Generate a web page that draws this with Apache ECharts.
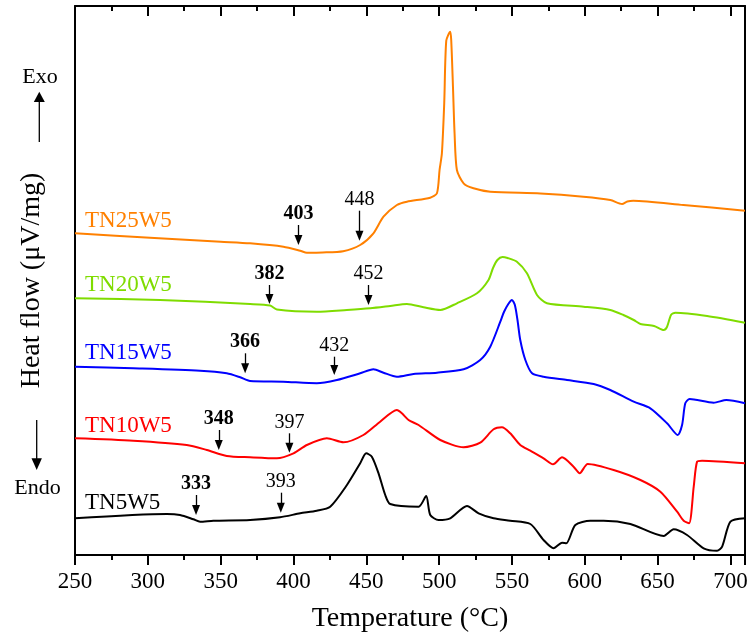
<!DOCTYPE html>
<html>
<head>
<meta charset="utf-8">
<script src="https://cdn.jsdelivr.net/npm/echarts@6/dist/echarts.min.js"></script>
<style>html,body{margin:0;padding:0;background:#fff}#chart{width:750px;height:644px}</style>
</head>
<body>
<div id="chart"></div>
<script>
// ---- Data (temperature °C, heat-flow in arbitrary stacked units) ----
const seriesNames = ['TN25W5', 'TN20W5', 'TN15W5', 'TN10W5', 'TN5W5'];
const seriesColors = ['#FF8000', '#7FDC00', '#0000FF', '#FF0000', '#000000'];

const tn25w5 = [[250,321.7],[301.5,317.3],[350,313.3],[370.2,311.7],[393.1,308.3],[404.6,304.3],[409.2,302.3],[420,302.5],[434.1,303.8],[445.8,310],[454.9,321.7],[461.8,338.3],[471,350],[477.9,353.3],[493.9,357.3],[498.5,361.7],[500.3,385],[501.9,401.7],[503.5,451.7],[504.9,514.3],[507.6,523.3],[508.3,515],[509.5,468.3],[510.6,421.7],[512.2,385],[516.8,371.7],[523.6,366.7],[535.1,363.3],[569.5,361.5],[599,358.3],[617.5,355],[625.6,351],[629.2,353.5],[633.3,354.3],[667.7,350],[710,344.3]];

const tn20w5 = [[250,256.7],[308.4,255],[370.2,251],[384,249.5],[388.6,245.5],[416,243.3],[436.6,245],[452.7,246.7],[466.4,249],[477.9,251],[489.3,247.7],[500.8,245],[512.2,251.7],[526,261.7],[533.9,275],[537,287],[540,295],[543.5,298],[547,297],[553.4,293.3],[560.3,281.7],[567.2,260],[574,251.7],[599.2,248.3],[617.5,245],[626.5,240],[633.6,235],[638.2,231],[647.6,229],[654.2,225],[656.5,228.3],[659.2,240],[662.2,242.3],[684,239],[710,232.3]];

const tn15w5 = [[250,188.3],[290,186.7],[335.9,184.3],[354.2,181.7],[363.4,177.7],[370.2,174],[392.9,173.3],[416,171.7],[429.8,175],[445.8,181.7],[454.9,185.7],[461.8,182.3],[471,178.3],[482.4,181],[498.5,182.3],[516.8,185.7],[528.2,195],[535.1,208.3],[542,233.3],[544.5,243],[547.5,251],[550,255],[552,250],[553.8,235],[555.7,215],[559.2,195],[563.8,181.7],[571.7,178.3],[587.8,175],[606.1,171],[617.5,165],[633.6,153.3],[645,146.7],[656.5,131.7],[663.8,120],[666.8,130],[669,151.7],[672,156],[688.5,152.3],[697.2,155],[710,151.7]];

const tn10w5 = [[250,116.7],[290,114.3],[326.7,110],[340.5,105],[354.2,99],[370.2,97.7],[388.6,96.7],[400,101.7],[409.2,110],[422.9,116.7],[434.3,112.7],[448,120],[459.5,133.3],[471,145],[474.4,141.7],[479,135],[485.9,130],[500.8,115],[516.8,107.7],[528.2,112.3],[537.4,125.7],[543.1,127.7],[548.8,121.7],[555.7,110],[562.6,104.3],[571.7,96.7],[578.2,90.7],[584.4,97.7],[592.3,88.3],[596.5,81.7],[602,91],[619.8,85],[638.2,75],[651.9,63.3],[663.4,43.3],[667.9,34.3],[671.6,31.7],[674.8,68.3],[677.1,93.3],[680.5,94.3],[710,91.7]];

const tn5w5 = [[250,36.7],[313,41],[322.1,40],[331.3,35.7],[335.9,33.3],[345,34.3],[370.2,35],[390.8,37.7],[404.6,41.7],[416,44.3],[425.2,48.3],[436.7,70],[445.8,91.7],[449.9,101.7],[453.8,98.3],[458.4,81.7],[463,60],[466.4,51],[485.9,48.3],[491.1,59],[493.9,40],[499.6,35],[507.6,36.7],[519.1,49],[527.1,41.7],[537.4,36.7],[548.8,34.3],[562.6,31],[571.7,15],[578.6,6.7],[584.4,12.3],[587.3,11.7],[593.5,30],[603.8,34.3],[613,34.3],[631.3,31],[654.2,19],[661,25.7],[670.2,20],[681.6,6.7],[690.8,4.3],[694.3,8.3],[700,33.3],[710,36.7]];

// annotation arrows: temperature, label, bold?, arrow top value, arrow tip value
const ann25 = [[403.4,'403',true,330,310],[445.3,'448',false,344.3,314.3]];
const ann20 = [[383.5,'382',true,270,251],[451.5,'452',false,270,250]];
const ann15 = [[366.8,'366',true,201.7,181.7],[428,'432',false,198.3,180]];
const ann10 = [[348.7,'348',true,125,105],[397.2,'397',false,121.7,102.3]];
const ann5  = [[333.1,'333',true,60,40],[391.3,'393',false,62.3,42.3]];

const xMin = 250, xMax = 710, xStep = 50;
const yMin = 0, yMax = 549;
const xTicks = [250,300,350,400,450,500,550,600,650,700];
const xMinorTicks = [275,325,375,425,475,525,575,625,675];

// ---- Chart ----
const FONT = '"Liberation Serif", "Times New Roman", serif';
const allData = [tn25w5, tn20w5, tn15w5, tn10w5, tn5w5];
const allAnn = [ann25, ann20, ann15, ann10, ann5];
const nameLabelY = [220.7, 285, 353.3, 425.8, 502.5];

const chart = echarts.init(document.getElementById('chart'), null, {renderer: 'canvas'});

const series = allData.map((d, i) => ({
  name: seriesNames[i],
  type: 'line',
  data: d,
  xAxisIndex: 0, yAxisIndex: 0,
  showSymbol: false,
  smooth: 0.25,
  lineStyle: {color: seriesColors[i], width: 2},
  itemStyle: {color: seriesColors[i]},
  z: 3,
  markLine: {
    silent: true,
    symbol: ['none', 'triangle'],
    symbolSize: [8, 10],
    lineStyle: {color: '#000', width: 1.3, type: 'solid'},
    itemStyle: {color: '#000'},
    label: {show: true, position: 'start', distance: 1, formatter: '{b}', color: '#000', fontSize: 20, fontFamily: FONT},
    emphasis: {disabled: true},
    data: allAnn[i].map(a => [
      {name: a[1], coord: [a[0], a[3]], label: {fontWeight: a[2] ? 'bold' : 'normal'}},
      {coord: [a[0], a[4] + 5]}
    ])
  }
}));

// mirrored tick marks along the top frame (inside, pointing down)
series.push({
  type: 'line', data: [], silent: true, z: 4,
  markLine: {
    silent: true, symbol: ['none', 'none'], animation: false,
    label: {show: false}, emphasis: {disabled: true},
    lineStyle: {color: '#000', width: 2, type: 'solid'},
    data: xTicks.map(t => [{coord: [t, yMax]}, {coord: [t, yMax - 10]}])
      .concat(xMinorTicks.map(t => [{coord: [t, yMax]}, {coord: [t, yMax - 5]}]))
  }
});

const graphics = seriesNames.map((n, i) => ({
  type: 'text', x: 85, y: nameLabelY[i],
  style: {text: n, fill: seriesColors[i], font: '23px ' + FONT, align: 'left', verticalAlign: 'middle'}
}));
graphics.push(
  {type: 'text', x: 40, y: 77, style: {text: 'Exo', fill: '#000', font: '22px ' + FONT, align: 'center', verticalAlign: 'middle'}},
  {type: 'line', shape: {x1: 39.3, y1: 101, x2: 39.3, y2: 142}, style: {stroke: '#000', lineWidth: 1.3}},
  {type: 'polygon', shape: {points: [[39.3, 91.7], [33.8, 102], [44.8, 102]]}, style: {fill: '#000'}},
  {type: 'text', x: 37.5, y: 488, style: {text: 'Endo', fill: '#000', font: '22px ' + FONT, align: 'center', verticalAlign: 'middle'}},
  {type: 'line', shape: {x1: 36.7, y1: 420, x2: 36.7, y2: 459}, style: {stroke: '#000', lineWidth: 1.3}},
  {type: 'polygon', shape: {points: [[36.7, 470], [31.5, 458.3], [41.9, 458.3]]}, style: {fill: '#000'}}
);

chart.setOption({
  animation: false,
  backgroundColor: '#fff',
  textStyle: {fontFamily: FONT},
  grid: {left: 75, right: 5, top: 6, bottom: 89, containLabel: false, outerBoundsMode: 'none'},
  xAxis: [
    {type: 'value', position: 'bottom', min: xMin, max: xMax, interval: xStep,
     axisLine: {show: true, onZero: false, lineStyle: {color: '#000', width: 2}},
     axisTick: {show: true, inside: false, length: 10, lineStyle: {color: '#000', width: 2}},
     minorTick: {show: true, splitNumber: 2, length: 5, lineStyle: {color: '#000', width: 2}},
     axisLabel: {show: true, showMaxLabel: false, fontSize: 23, fontFamily: FONT, color: '#000', margin: 15,
       formatter: v => (v % xStep === 0 ? String(v) : '')},
     splitLine: {show: false}, minorSplitLine: {show: false},
     name: 'Temperature (\u00B0C)', nameLocation: 'middle', nameGap: 50,
     nameTextStyle: {fontSize: 28, fontFamily: FONT, color: '#000'}},
    {type: 'value', position: 'top', min: xMin, max: xMax, interval: xStep,
     axisLine: {show: true, onZero: false, lineStyle: {color: '#000', width: 2}},
     axisTick: {show: false}, minorTick: {show: false}, axisLabel: {show: false},
     splitLine: {show: false}}
  ],
  yAxis: [
    {type: 'value', position: 'left', min: yMin, max: yMax,
     axisLine: {show: true, onZero: false, lineStyle: {color: '#000', width: 2}},
     axisTick: {show: false}, axisLabel: {show: false}, splitLine: {show: false},
     name: 'Heat flow (\u03BCV/mg)', nameLocation: 'middle', nameGap: 29,
     nameTextStyle: {fontSize: 28, fontFamily: FONT, color: '#000'}},
    {type: 'value', position: 'right', min: yMin, max: yMax,
     axisLine: {show: true, onZero: false, lineStyle: {color: '#000', width: 2}},
     axisTick: {show: false}, axisLabel: {show: false}, splitLine: {show: false}}
  ],
  series: series,
  graphic: graphics
});
</script>
</body>
</html>
